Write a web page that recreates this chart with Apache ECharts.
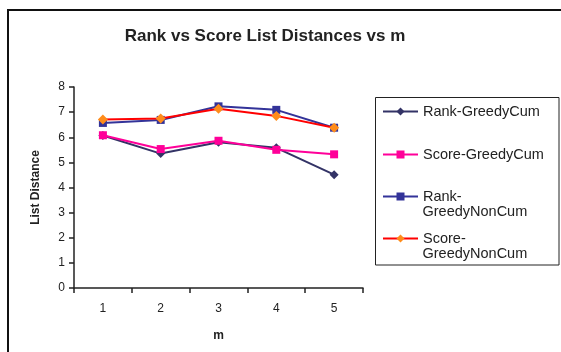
<!DOCTYPE html>
<html><head><meta charset="utf-8">
<script src="https://cdn.jsdelivr.net/npm/echarts@6/dist/echarts.min.js"></script>
<style>html,body{margin:0;padding:0;background:#fff}#c{width:561px;height:352px}</style>
</head><body><div id="c"></div>
<script>
const categories = ['1','2','3','4','5'];
const rankGreedyCum = [6.07, 5.35, 5.80, 5.58, 4.51];
const scoreGreedyCum = [6.08, 5.53, 5.86, 5.50, 5.32];
const rankGreedyNonCum = [6.57, 6.69, 7.23, 7.09, 6.38];
const scoreGreedyNonCum = [6.71, 6.75, 7.13, 6.85, 6.38];
const seriesNames = ['Rank-GreedyCum','Score-GreedyCum','Rank-GreedyNonCum','Score-GreedyNonCum'];
const legendFirstLines = ['Rank-GreedyCum','Score-GreedyCum','Rank-','Score-'];
const legendSecondLines = ['','','GreedyNonCum','GreedyNonCum'];
const yTicks = [0,1,2,3,4,5,6,7,8];

const font = 'Liberation Sans, Arial, sans-serif';
const styles = [
  {line:'#333366', sym:'diamond', symColor:'#333366', size:9},
  {line:'#FF0099', sym:'rect', symColor:'#FF0099', size:8},
  {line:'#333399', sym:'rect', symColor:'#333399', size:8},
  {line:'#FF0000', sym:'diamond', symColor:'#FF8C1A', size:10}
];
const datas = [rankGreedyCum, scoreGreedyCum, rankGreedyNonCum, scoreGreedyNonCum];
const legendTops = [109, 152, 194, 236];
const legendFontSize = 14.5;

const chart = echarts.init(document.getElementById('c'), null, {renderer:'canvas'});
const graphics = [
  {type:'rect', shape:{x:8, y:10, width:700, height:500}, style:{fill:'none', stroke:'#111', lineWidth:2}, silent:true},
  {type:'rect', shape:{x:375.5, y:97.5, width:183.5, height:167.5}, style:{fill:'none', stroke:'#222', lineWidth:1}, silent:true}
];
legendSecondLines.forEach((t,i)=>{
  if (t) graphics.push({type:'text', left:422.5, top:legendTops[i]+17 - 7,
    style:{text:t, fontFamily:font, fontSize:legendFontSize, fill:'#222'}, silent:true});
});
chart.setOption({
  animation:false,
  backgroundColor:'#fff',
  title:{text:'Rank vs Score List Distances vs m', left:260, top:23, textAlign:'center',
    textStyle:{fontFamily:font, fontSize:17, fontWeight:'bold', color:'#222'}},
  grid:{left:74, top:87, right:198, bottom:64, containLabel:false},
  xAxis:{type:'category', data:categories, boundaryGap:true,
    name:'m', nameLocation:'middle', nameGap:42,
    nameTextStyle:{fontFamily:font, fontSize:12, fontWeight:'bold', color:'#222'},
    axisLine:{lineStyle:{color:'#222', width:1.5}},
    axisTick:{show:true, length:5, lineStyle:{color:'#222', width:1.5}},
    axisLabel:{fontFamily:font, fontSize:12, color:'#222', margin:15}},
  yAxis:{type:'value', min:yTicks[0], max:yTicks[yTicks.length-1], interval:1,
    name:'List Distance', nameLocation:'middle', nameGap:32,
    nameTextStyle:{fontFamily:font, fontSize:12, fontWeight:'bold', color:'#222'},
    splitLine:{show:false},
    axisLine:{show:true, lineStyle:{color:'#222', width:1.5}},
    axisTick:{show:true, length:5, lineStyle:{color:'#222', width:1.5}},
    axisLabel:{fontFamily:font, fontSize:12, color:'#222', margin:9}},
  legend: seriesNames.map((n,i)=>({
    data:[n], orient:'vertical', left:382, top:legendTops[i]-5, padding:0,
    itemWidth:35, itemHeight:10, itemGap:4,
    formatter:()=>legendFirstLines[i],
    textStyle:{fontFamily:font, fontSize:legendFontSize, color:'#222'}
  })),
  series: seriesNames.map((n,i)=>({
    name:n, type:'line', data:datas[i],
    symbol:styles[i].sym, symbolSize:styles[i].size,
    lineStyle:{color:styles[i].line, width:2},
    itemStyle:{color:styles[i].symColor, borderWidth:0},
    z: 2+i
  })),
  graphic:graphics
});
</script></body></html>
